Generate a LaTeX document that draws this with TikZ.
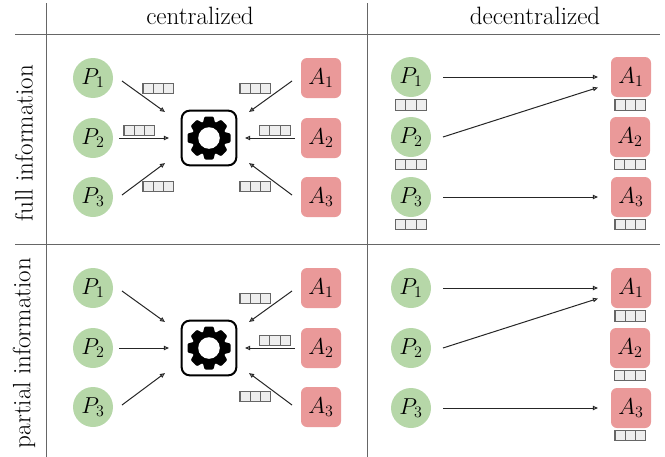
\documentclass[tikz,border=0pt]{standalone}
\usepackage{amsmath}
\usetikzlibrary{arrows.meta}

\definecolor{pgreen}{HTML}{B6D7A8}
\definecolor{ared}{HTML}{EA9999}
\definecolor{qfill}{HTML}{EEEEEE}

\tikzset{
    player/.style={circle,fill=pgreen,minimum size=30pt,inner sep=0pt,font=\fontsize{18}{22}\selectfont},
    agent/.style={rectangle,rounded corners=4.5pt,fill=ared,minimum size=30pt,inner sep=0pt,font=\fontsize{18}{22}\selectfont},
    hub/.style={rectangle,rounded corners=6pt,draw=black,line width=1.5pt,minimum size=41pt,inner sep=0pt},
    flow/.style={-{Triangle[open,length=3.8pt,width=3.2pt]},line width=0.75pt,black!85},
    grid line/.style={line width=0.75pt,black!60},
    head/.style={font=\fontsize{18.8}{22}\selectfont},
    queue/.pic={
        \foreach \c in {-15.5,-5.2,5.1}{
            \draw [draw=black!60,fill=qfill,line width=0.8pt] (\c,-5.2) rectangle ++(10.3,10.4);
        }
    },
    gear/.pic={
        \fill (0,0) circle (17);
        \foreach \a in {0,45,...,315}{
            \fill [rotate=\a,rounded corners=0.8pt] (-6.4,-14) -- (-4.4,-21.5) -- (4.4,-21.5) -- (6.4,-14) -- cycle;
        }
        \fill [white] (0,0) circle (10.8);
    }
}

\begin{document}
\begin{tikzpicture}[x=0.75pt,y=-0.75pt]
    \useasboundingbox (0,0) rectangle (665,457);

    % table
    \coordinate (vl top) at (46,3);   \coordinate (vl bot) at (46,457);
    \coordinate (vr top) at (367,3);  \coordinate (vr bot) at (367,457);
    \coordinate (ha l) at (15,34);    \coordinate (ha r) at (660,34);
    \coordinate (hb l) at (15,244);   \coordinate (hb r) at (660,244);
    \draw [grid line] (vl top) -- (vl bot);
    \draw [grid line] (vr top) -- (vr bot);
    \draw [grid line] (ha l) -- (ha r);
    \draw [grid line] (hb l) -- (hb r);

    \node [head] (central) at (200,16) {centralized};
    \node [head] (decentral) at (535,16) {decentralized};
    \node [head,rotate=90] (full) at (24,143) {full information};
    \node [head,rotate=90] (partial) at (24,353) {partial information};

    % centralized columns
    \foreach \r/\d in {f/0,p/210}{
        \node [player] (P\r1) at (93,78+\d)  {$P_1$};
        \node [player] (P\r2) at (93,138+\d) {$P_2$};
        \node [player] (P\r3) at (93,197+\d) {$P_3$};
        \node [agent] (A\r1) at (321,78+\d)  {$A_1$};
        \node [agent] (A\r2) at (321,138+\d) {$A_2$};
        \node [agent] (A\r3) at (321,197+\d) {$A_3$};
        \node [hub] (H\r) at (209,138+\d) {};
        \pic at (209,138+\d) {gear};

        \draw [flow] ([shift={(29,3)}]P\r1.center) -- ([shift={(-44,-26)}]H\r.center);
        \draw [flow] ([shift={(26,0)}]P\r2.center) -- ([shift={(-40,0)}]H\r.center);
        \draw [flow] ([shift={(29,-2)}]P\r3.center) -- ([shift={(-44,25)}]H\r.center);
        \draw [flow] ([shift={(-29,3)}]A\r1.center) -- ([shift={(40,-26)}]H\r.center);
        \draw [flow] ([shift={(-26,0)}]A\r2.center) -- ([shift={(36,0)}]H\r.center);
        \draw [flow] ([shift={(-29,-2)}]A\r3.center) -- ([shift={(40,25)}]H\r.center);

        \pic at (255.5,88.5+\d) {queue};
        \pic at (275,130.5+\d) {queue};
        \pic at (255.5,186.5+\d) {queue};
    }
    \pic at (158.5,88.5) {queue};
    \pic at (139.5,130.5) {queue};
    \pic at (158.5,186.5) {queue};

    % decentralized columns
    \foreach \r/\d in {g/0,q/211}{
        \node [player] (P\r1) at (411,77+\d)  {$P_1$};
        \node [player] (P\r2) at (411,137+\d) {$P_2$};
        \node [player] (P\r3) at (411,197+\d) {$P_3$};
        \node [agent] (A\r1) at (631,77+\d)  {$A_1$};
        \node [agent] (A\r2) at (630,137+\d) {$A_2$};
        \node [agent] (A\r3) at (631,197+\d) {$A_3$};

        \draw [flow] ([xshift=32*0.75pt]P\r1.center) -- ([xshift=-33*0.75pt]A\r1.center);
        \draw [flow] ([xshift=32*0.75pt]P\r2.center) -- ([shift={(-33,10.5)}]A\r1.center);
        \draw [flow] ([xshift=32*0.75pt]P\r3.center) -- ([xshift=-33*0.75pt]A\r3.center);

        \pic at (630.5,105+\d) {queue};
        \pic at (630,164.5+\d) {queue};
        \pic at (630.5,224.5+\d) {queue};
    }
    \pic at (411,105) {queue};
    \pic at (411,164.5) {queue};
    \pic at (411,224.5) {queue};
\end{tikzpicture}
\end{document}
